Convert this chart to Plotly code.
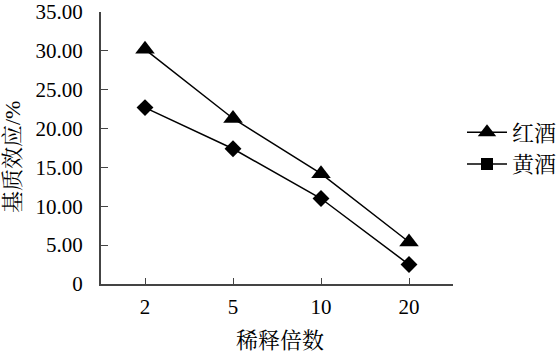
import plotly.graph_objects as go

categories = ["2", "5", "10", "20"]
red_wine = [30.2, 21.3, 14.2, 5.4]
yellow_wine = [22.7, 17.4, 11.0, 2.5]
y_ticks = [0, 5, 10, 15, 20, 25, 30, 35]
y_tick_labels = ["0", "5.00", "10.00", "15.00", "20.00", "25.00", "30.00", "35.00"]

FONT = "Liberation Serif, Times New Roman, Noto Serif CJK SC, Noto Sans CJK SC, serif"
BLACK = "black"

W, H = 557, 353
L, R, T, B = 101, 104, 12, 69
pw, ph = W - L - R, H - T - B

fig = go.Figure()
fig.add_trace(go.Scatter(x=categories, y=red_wine, mode="lines+markers",
                         line=dict(color=BLACK, width=1.5),
                         marker=dict(symbol="triangle-up", size=17, color=BLACK),
                         showlegend=False))
fig.add_trace(go.Scatter(x=categories, y=yellow_wine, mode="lines+markers",
                         line=dict(color=BLACK, width=1.5),
                         marker=dict(symbol="diamond", size=13, color=BLACK),
                         showlegend=False))
# legend entries (legend shows squares for 黄酒 as in the reference)
fig.add_trace(go.Scatter(x=[None], y=[None], mode="lines+markers", name="红酒",
                         line=dict(color=BLACK, width=1.5),
                         marker=dict(symbol="triangle-up", size=16, color=BLACK)))
fig.add_trace(go.Scatter(x=[None], y=[None], mode="lines+markers", name="黄酒",
                         line=dict(color=BLACK, width=1.5),
                         marker=dict(symbol="square", size=12, color=BLACK)))

def px_x(x):
    return (x - L) / pw

def px_y(y):
    return (H - B - y) / ph

fig.update_layout(
    width=W, height=H,
    margin=dict(l=L, r=R, t=T, b=B, autoexpand=False),
    paper_bgcolor="white", plot_bgcolor="white",
    font=dict(family=FONT, size=20, color=BLACK),
    legend=dict(x=px_x(462), y=px_y(148.5), xanchor="left", yanchor="middle",
                font=dict(size=22, color=BLACK), itemwidth=40, tracegroupgap=0,
                bgcolor="rgba(0,0,0,0)"),
    xaxis=dict(type="category", range=[-0.5, 3.5], showline=True, automargin=False,
               linecolor="#444", linewidth=2, ticks="inside", ticklen=6,
               tickcolor="#444", showgrid=False, zeroline=False,
               tickfont=dict(size=21, color=BLACK), ticklabelstandoff=3),
    yaxis=dict(range=[0, 35], tickvals=y_ticks, ticktext=y_tick_labels,
               showline=True, automargin=False, ticklabeloverflow="allow",
               linecolor="#444", linewidth=2, ticks="inside",
               ticklen=7, tickcolor="#444", showgrid=False, zeroline=False,
               tickfont=dict(size=21, color=BLACK), ticklabelstandoff=12),
    annotations=[
        dict(text="稀释倍数", x=px_x(280), y=px_y(340), xref="paper", yref="paper",
             xanchor="center", yanchor="middle",
             showarrow=False, font=dict(size=22, color=BLACK)),
        dict(text="基质效应/%", x=px_x(12), y=px_y(157), xref="paper", yref="paper",
             xanchor="center", yanchor="middle",
             showarrow=False, textangle=-90, font=dict(size=22, color=BLACK)),
    ],
)

fig.write_html("out.html")
